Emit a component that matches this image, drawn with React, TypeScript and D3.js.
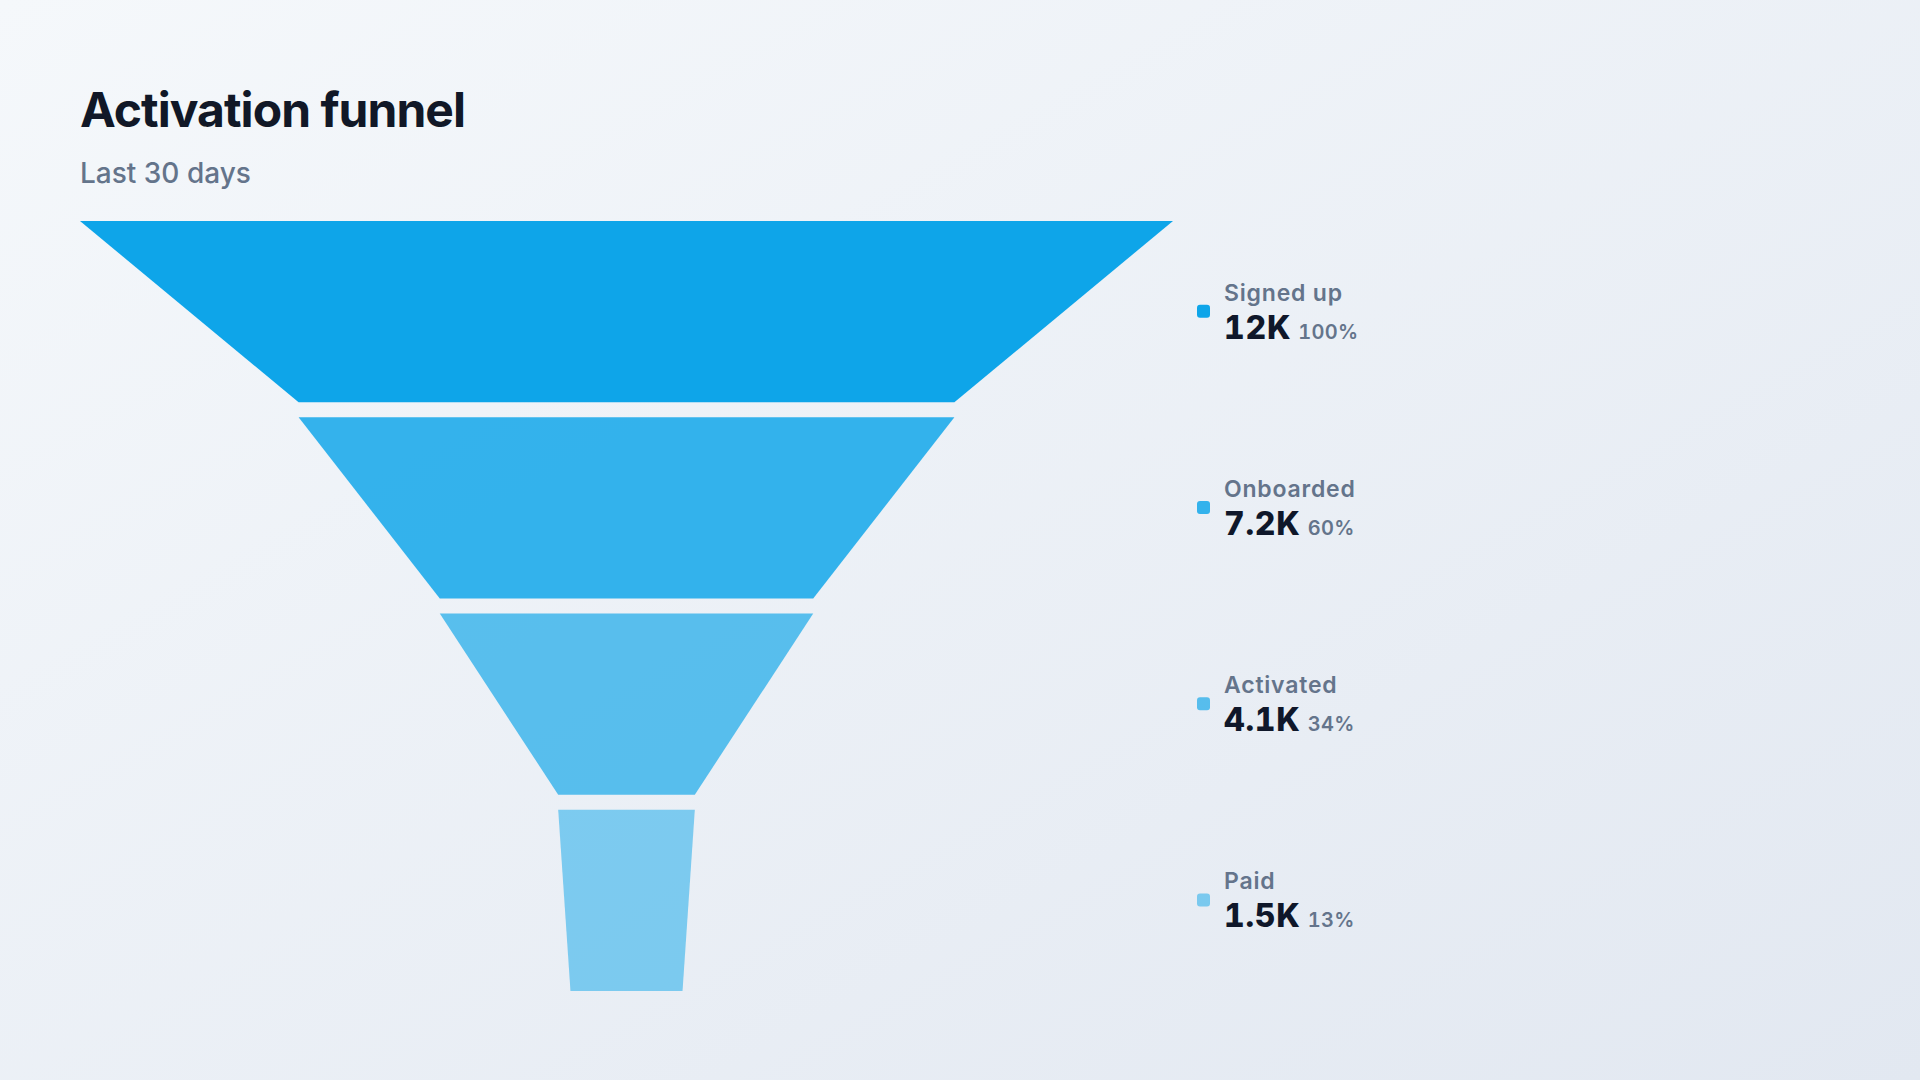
import React, { useEffect, useRef } from "react";
import * as d3 from "d3";

const stages = ["Signed up", "Onboarded", "Activated", "Paid"];
const counts = [12000, 7200, 4100, 1500];
const title = "Activation funnel";
const subtitle = "Last 30 days";

const WIDTH = 1920;
const HEIGHT = 1080;

const App: React.FC = () => {
  const svgRef = useRef<SVGSVGElement | null>(null);

  useEffect(() => {
    if (!svgRef.current) return;
    const svg = d3.select(svgRef.current);
    svg.selectAll("*").remove();

    const font = "Inter, 'Noto Sans', sans-serif";
    const base = "#0ea5e9";

    // background
    const defs = svg.append("defs");
    const grad = defs
      .append("linearGradient")
      .attr("id", "bg")
      .attr("x1", "0%")
      .attr("y1", "0%")
      .attr("x2", "100%")
      .attr("y2", "100%");
    grad.append("stop").attr("offset", "0%").attr("stop-color", "#f5f8fb");
    grad.append("stop").attr("offset", "100%").attr("stop-color", "#e2e8f1");
    svg
      .append("rect")
      .attr("width", WIDTH)
      .attr("height", HEIGHT)
      .attr("fill", "url(#bg)");

    // heading
    svg
      .append("text")
      .attr("x", 80)
      .attr("y", 127)
      .attr("font-family", font)
      .attr("font-size", 48)
      .attr("font-weight", 700)
      .attr("letter-spacing", "-0.02em")
      .attr("fill", "#111827")
      .text(title);

    svg
      .append("text")
      .attr("x", 80)
      .attr("y", 183)
      .attr("font-family", font)
      .attr("font-size", 28)
      .attr("font-weight", 500)
      .attr("fill", "#64748b")
      .text(subtitle);

    // funnel geometry
    const left = 80;
    const right = 1173;
    const top = 221;
    const bottom = 991;
    const gap = 15;
    const cx = (left + right) / 2;

    const w = d3
      .scaleLinear()
      .domain([0, d3.max(counts)!])
      .range([0, right - left]);

    const y = d3
      .scaleBand<string>()
      .domain(stages)
      .range([top, bottom + gap])
      .paddingInner(0);

    const segH = y.bandwidth() - gap;
    const opacity = d3
      .scaleLinear()
      .domain([0, stages.length - 1])
      .range([1, 0.5]);

    const total = counts[0];
    const fmtVal = (v: number) => d3.format(".2s")(v).toUpperCase();
    const fmtPct = (v: number) => `${Math.round((v / total) * 100)}%`;

    const rows = stages.map((s, i) => {
      const wTop = w(counts[i]);
      const wBot =
        i < counts.length - 1 ? w(counts[i + 1]) : w(counts[i]) * 0.82;
      const y0 = y(s)!;
      return { s, i, wTop, wBot, y0, y1: y0 + segH, v: counts[i] };
    });

    const line = d3.line<[number, number]>();

    svg
      .append("g")
      .selectAll("path")
      .data(rows)
      .enter()
      .append("path")
      .attr("d", (d) =>
        line([
          [cx - d.wTop / 2, d.y0],
          [cx + d.wTop / 2, d.y0],
          [cx + d.wBot / 2, d.y1],
          [cx - d.wBot / 2, d.y1],
        ])! + "Z"
      )
      .attr("fill", base)
      .attr("fill-opacity", (d) => opacity(d.i));

    // legend
    const legendX = 1197;
    const lg = svg
      .append("g")
      .selectAll("g")
      .data(rows)
      .enter()
      .append("g")
      .attr("transform", (d) => `translate(${legendX}, ${d.y0 + segH / 2})`);

    lg.append("rect")
      .attr("x", 0)
      .attr("y", -7)
      .attr("width", 13)
      .attr("height", 13)
      .attr("rx", 3)
      .attr("fill", base)
      .attr("fill-opacity", (d) => opacity(d.i));

    lg.append("text")
      .attr("x", 27)
      .attr("y", -11)
      .attr("font-family", font)
      .attr("font-size", 23)
      .attr("font-weight", 600)
      .attr("letter-spacing", 0.8)
      .attr("fill", "#64748b")
      .text((d) => d.s);

    const vt = lg
      .append("text")
      .attr("x", 27)
      .attr("y", 27)
      .attr("font-family", font)
      .style("font-variant-numeric", "tabular-nums");

    vt.append("tspan")
      .attr("font-size", 32)
      .attr("font-weight", 800)
      .attr("letter-spacing", 0.8)
      .attr("fill", "#0f172a")
      .text((d) => fmtVal(d.v));

    vt.append("tspan")
      .attr("dx", 7)
      .attr("font-size", 20)
      .attr("font-weight", 600)
      .attr("letter-spacing", 0.3)
      .attr("fill", "#64748b")
      .text((d) => fmtPct(d.v));
  }, []);

  return (
    <svg
      ref={svgRef}
      width={WIDTH}
      height={HEIGHT}
      style={{ position: "absolute", left: 0, top: 0, display: "block" }}
    ></svg>
  );
};

export default App;
